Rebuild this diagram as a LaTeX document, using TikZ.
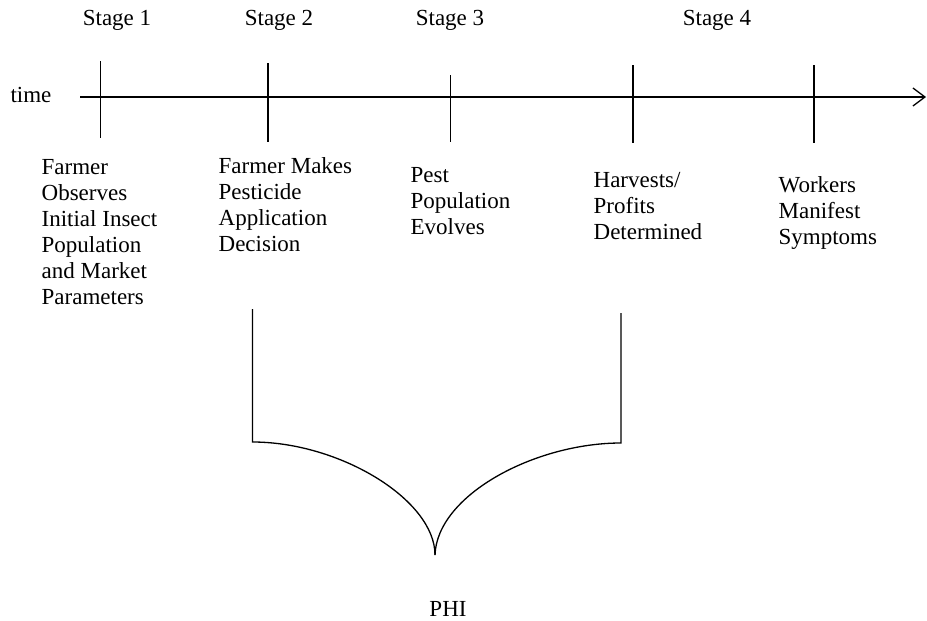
\documentclass[tikz,border=0pt]{standalone}
\usepackage{fontspec}
\setmainfont{Liberation Serif}
\usetikzlibrary{arrows.meta}

\begin{document}
\begin{tikzpicture}[x=1pt, y=-1pt, line width=1.3pt,
  every node/.style={font=\fontsize{23}{26}\selectfont, inner sep=0pt},
  col/.style={anchor=north west, align=left}]
\useasboundingbox (0,0) rectangle (927,621);
% time axis
\node[anchor=base] (time) at (31,102) {time};
\coordinate (a0) at (80,97);
\coordinate (a1) at (926,97);
\draw[-{Straight Barb[length=12pt,width=18pt]}] (a0) -- (a1);
% ticks
\coordinate (t1) at (100.5,61);  \coordinate (b1) at (100.5,138);
\coordinate (t2) at (268,63);    \coordinate (b2) at (268,142);
\coordinate (t3) at (450.5,75);  \coordinate (b3) at (450.5,142);
\coordinate (t4) at (633,65);    \coordinate (b4) at (633,143);
\coordinate (t5) at (814,65);    \coordinate (b5) at (814,143);
\draw (t1) -- (b1);
\draw (t2) -- (b2);
\draw (t3) -- (b3);
\draw (t4) -- (b4);
\draw (t5) -- (b5);
% stages
\node[anchor=base] (s1) at (117,25) {Stage 1};
\node[anchor=base] (s2) at (279,25) {Stage 2};
\node[anchor=base] (s3) at (450,25) {Stage 3};
\node[anchor=base] (s4) at (717,25) {Stage 4};
% events
\node[col] (c1) at (41,158.5) {Farmer\\Observes\\Initial Insect\\Population\\and Market\\Parameters};
\node[col] (c2) at (218,156.5) {Farmer Makes\\Pesticide\\Application\\Decision};
\node[col] (c3) at (410,166.5) {Pest\\Population\\Evolves};
\node[col] (c4) at (593,171.5) {Harvests/\\Profits\\Determined};
\node[col] (c5) at (778,175.5) {Workers\\Manifest\\Symptoms};
% PHI brace
\coordinate (l1) at (252.5,309);
\coordinate (l2) at (252.5,442);
\coordinate (tip) at (435,555);
\coordinate (r2) at (621,443);
\coordinate (r1) at (621,313);
\draw (l1) -- (l2) .. controls (340,442) and (435,500) .. (tip);
\draw (r1) -- (r2) .. controls (535,443) and (437,495) .. (tip);
\node[anchor=base] (phi) at (448,616) {PHI};
\end{tikzpicture}
\end{document}
